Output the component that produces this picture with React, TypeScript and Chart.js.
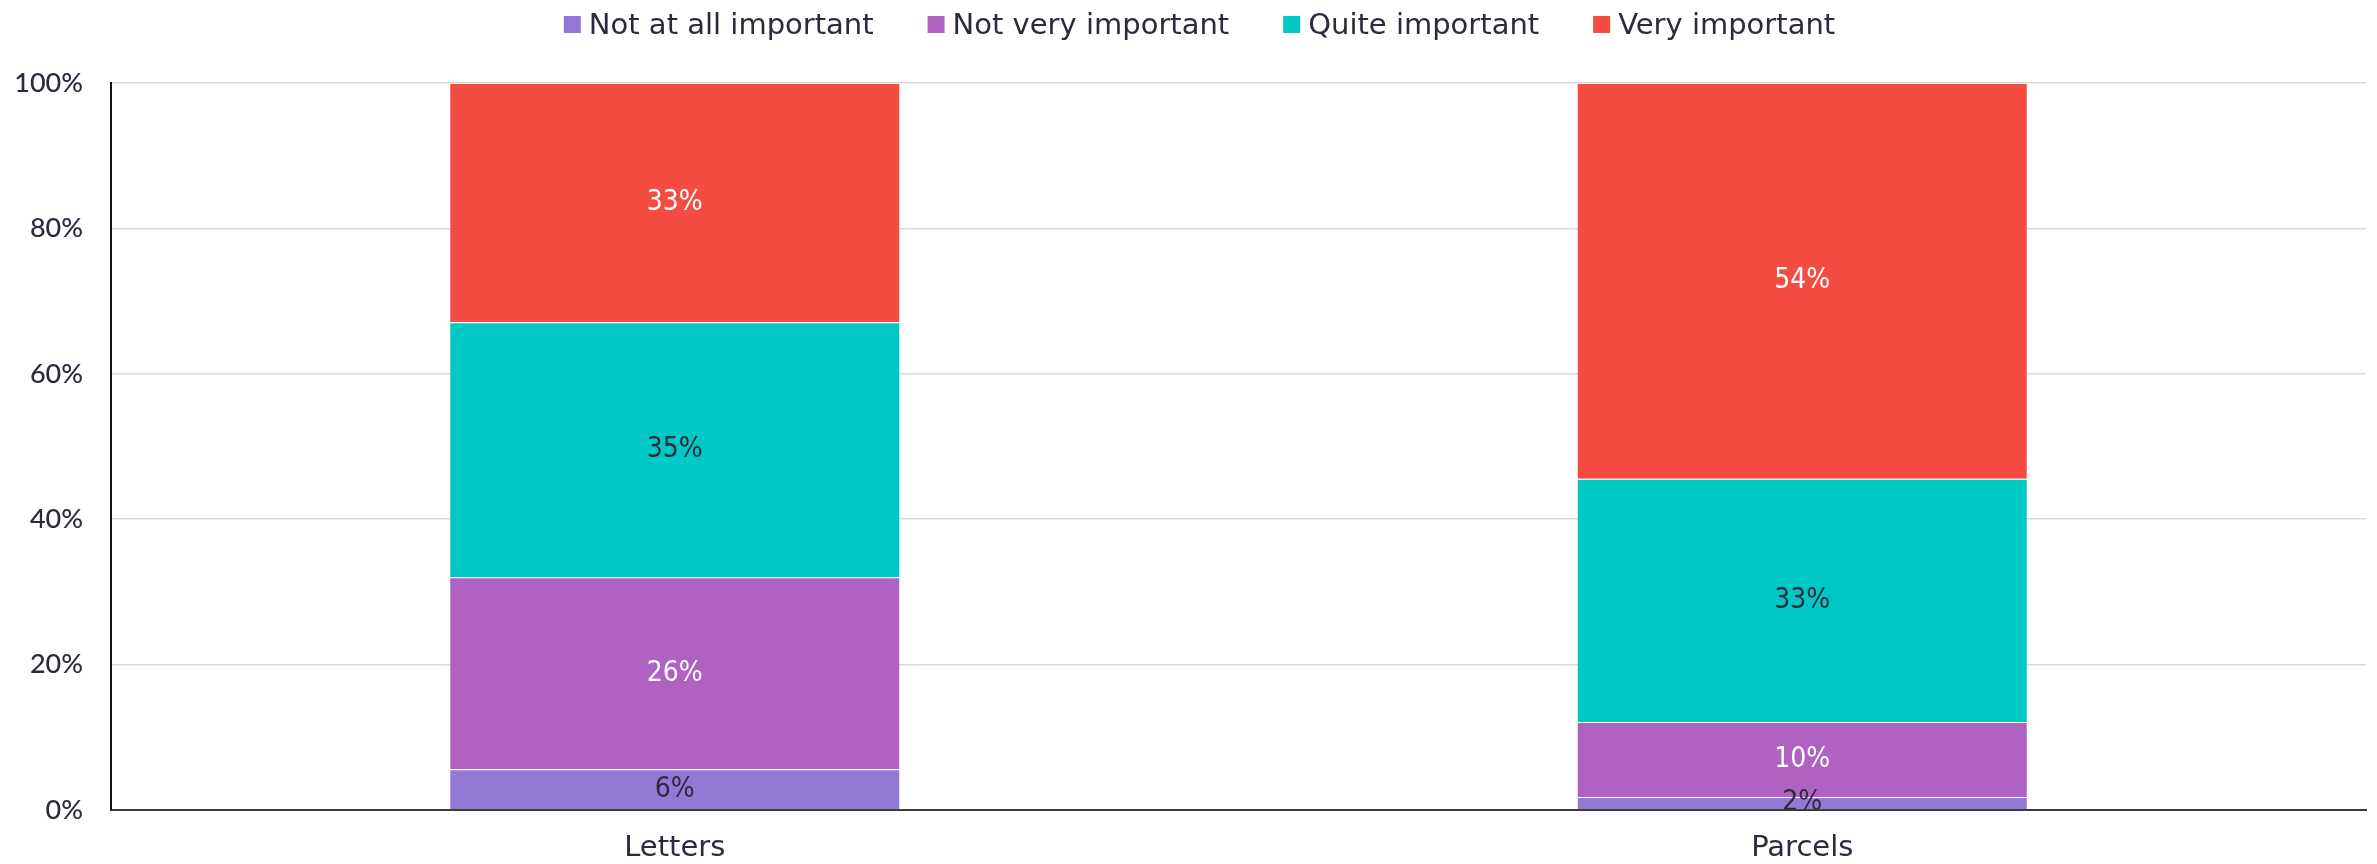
import React, { useEffect, useRef } from "react";
import { Chart, registerables } from "chart.js";

Chart.register(...registerables);

const CATEGORIES = ["Letters", "Parcels"];
const SERIES_NAMES = ["Not at all important", "Not very important", "Quite important", "Very important"];
const NOT_AT_ALL = [5.6, 1.8];
const NOT_VERY = [26.4, 10.3];
const QUITE = [35.1, 33.45];
const VERY = [32.9, 54.45];
const Y_TICKS = [0, 20, 40, 60, 80, 100];

const COLORS = ["#9179d4", "#b062c2", "#00c8c5", "#f44b42"];
const LABEL_COLORS = ["#2d2a3e", "#ffffff", "#2d2a3e", "#ffffff"];
const TEXT = "#2d2a3e";

const legendPlugin = {
  id: "topLegend",
  afterDraw(chart: any) {
    const ctx = chart.ctx;
    ctx.save();
    ctx.font = '29px "DejaVu Sans"';
    const box = 17;
    const gap = 8;
    const spacing = 54;
    const widths = SERIES_NAMES.map((n) => ctx.measureText(n).width);
    const total = widths.reduce((a, w) => a + box + gap + w, 0) + spacing * (SERIES_NAMES.length - 1);
    let x = chart.width / 2 + 11 - total / 2;
    const baseline = 34;
    SERIES_NAMES.forEach((name, i) => {
      ctx.fillStyle = COLORS[i];
      ctx.fillRect(x, 16, box, box);
      ctx.fillStyle = TEXT;
      ctx.textAlign = "left";
      ctx.textBaseline = "alphabetic";
      ctx.fillText(name, x + box + gap, baseline);
      x += box + gap + widths[i] + spacing;
    });
    ctx.restore();
  },
};

const dataLabelPlugin = {
  id: "segLabels",
  afterDatasetsDraw(chart: any) {
    const ctx = chart.ctx;
    ctx.save();
    ctx.font = '28px "DejaVu Sans Condensed", "DejaVu Sans", sans-serif';
    try {
      (ctx as any).fontStretch = "condensed";
    } catch (e) {}
    ctx.textAlign = "center";
    ctx.textBaseline = "middle";
    chart.data.datasets.forEach((ds: any, di: number) => {
      const meta = chart.getDatasetMeta(di);
      meta.data.forEach((el: any, i: number) => {
        const p = el.getProps(["x", "y", "base"], true);
        ctx.fillStyle = LABEL_COLORS[di];
        ctx.fillText(Math.round(ds.data[i]) + "%", p.x, (p.y + p.base) / 2);
      });
    });
    ctx.restore();
  },
};

export default function App() {
  const ref = useRef<HTMLCanvasElement | null>(null);
  useEffect(() => {
    if (!ref.current) return;
    const series = [NOT_AT_ALL, NOT_VERY, QUITE, VERY];
    const chart = new Chart(ref.current, {
      type: "bar",
      data: {
        labels: CATEGORIES,
        datasets: series.map((d, i) => ({
          label: SERIES_NAMES[i],
          data: d,
          backgroundColor: COLORS[i],
          borderColor: "rgba(255,255,255,0.3)",
          borderWidth: 1,
          categoryPercentage: 0.8,
          barPercentage: 0.5,
        })),
      },
      options: {
        animation: false,
        responsive: true,
        maintainAspectRatio: false,
        layout: { padding: { top: 83, right: 11, left: 0, bottom: 0 } },
        plugins: { legend: { display: false }, tooltip: { enabled: false } },
        scales: {
          x: {
            stacked: true,
            grid: { display: false, drawTicks: false },
            border: { display: true, color: "#3a3a3a", width: 2 },
            ticks: { color: TEXT, font: { family: "DejaVu Sans", size: 29 }, padding: 21 },
            afterFit(scale: any) {
              scale.height = 54;
            },
          },
          y: {
            stacked: true,
            min: 0,
            max: 100,
            afterBuildTicks(scale: any) {
              scale.ticks = Y_TICKS.map((v) => ({ value: v }));
            },
            grid: { color: "#d9d9d9", lineWidth: 1.5, drawTicks: false },
            border: { display: true, color: "#111111", width: 2 },
            ticks: {
              color: TEXT,
              font: { family: "Lato", size: 27, weight: "500" },
              padding: 28,
              callback: (v: any) => v + "%",
            },
            afterFit(scale: any) {
              scale.width = 111;
            },
          },
        },
      },
      plugins: [legendPlugin, dataLabelPlugin],
    });
    return () => chart.destroy();
  }, []);
  return (
    <div style={{ position: "absolute", left: 0, top: 0, width: 2377, height: 864, background: "#fff" }}>
      <canvas ref={ref} />
    </div>
  );
}
